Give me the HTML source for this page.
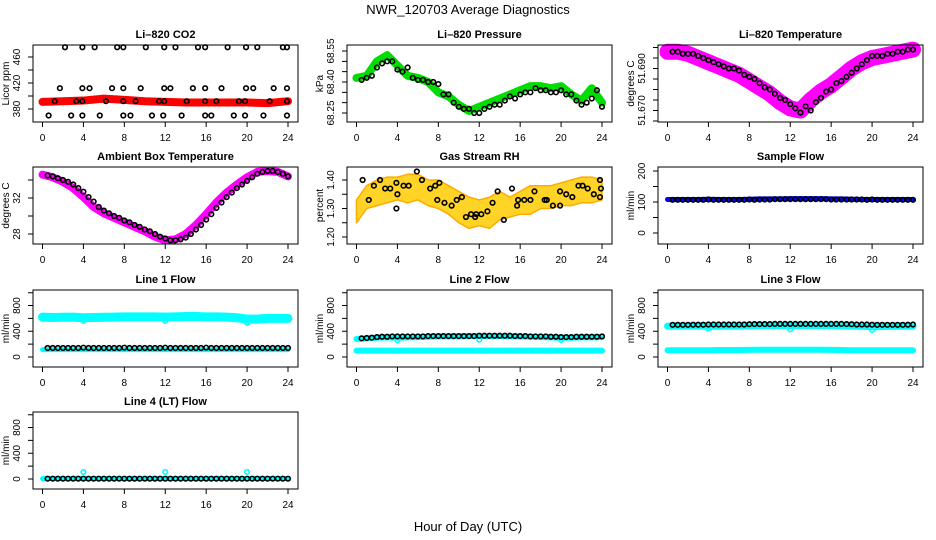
<!DOCTYPE html>
<html><head><meta charset="utf-8"><style>
body{margin:0;background:#fff}
svg{display:block;font-family:"Liberation Sans",sans-serif}
</style></head><body>
<svg id="c" width="936" height="540" viewBox="0 0 936 540">
<text x="468" y="14" text-anchor="middle" font-size="13">NWR_120703  Average Diagnostics</text>
<text x="468" y="531" text-anchor="middle" font-size="13">Hour of Day (UTC)</text>
</svg>
<script>
// ---------- data ----------
const hours25 = [0,1,2,3,4,5,6,7,8,9,10,11,12,13,14,15,16,17,18,19,20,21,22,23,24];
const hours48 = [0.5,1,1.5,2,2.5,3,3.5,4,4.5,5,5.5,6,6.5,7,7.5,8,8.5,9,9.5,10,10.5,11,11.5,12,12.5,13,13.5,14,14.5,15,15.5,16,16.5,17,17.5,18,18.5,19,19.5,20,20.5,21,21.5,22,22.5,23,23.5,24];
const xTicks = [0,4,8,12,16,20,24];

const co2Hours = [0,2,4,6,8,10,12,14,16,18,20,22,24];
const co2Band = [391,392,393,396,394,392,391,390,390,390,390,389,392];
const co2PtsX = [2.2,3.9,5.1,7.3,7.9,10.1,11.9,13,15.2,15.9,18.1,19.9,21,23.5,23.9, 1.7,3.9,4.6,6.8,7.9,9.6,11.9,12.5,14.7,15.9,17.5,19.9,20.6,22.6,23.9, 1.2,3.3,3.9,6.2,7.9,9.1,11.4,11.9,14.1,15.9,17,19.2,19.8,22.2,23.9, 0.6,2.8,3.9,5.6,7.9,8.6,10.7,11.8,13.6,15.9,16.5,18.7,19.8,21.6,23.9];
const co2PtsY = [475,475,475,475,475,475,475,475,475,475,475,475,475,475,475, 412,412,412,412,412,412,412,412,412,412,412,412,412,412,412, 392,392,392,392,392,392,392,392,392,392,392,392,392,392,392, 370,370,370,370,370,370,370,370,370,370,370,370,370,370,370];

const pressGreen = [68.42,68.43,68.50,68.53,68.48,68.43,68.42,68.40,68.35,68.33,68.29,68.26,68.28,68.30,68.32,68.34,68.36,68.38,68.38,68.37,68.38,68.34,68.31,68.37,68.30];
const pressBlack = [68.41,68.42,68.43,68.47,68.49,68.50,68.50,68.46,68.45,68.47,68.42,68.41,68.41,68.40,68.40,68.39,68.34,68.34,68.30,68.28,68.27,68.27,68.25,68.25,68.27,68.28,68.29,68.29,68.31,68.33,68.32,68.34,68.35,68.35,68.37,68.36,68.36,68.35,68.35,68.36,68.34,68.34,68.31,68.29,68.30,68.32,68.36,68.28];

const tempMag = [51.698,51.698,51.697,51.695,51.693,51.691,51.689,51.687,51.684,51.681,51.678,51.674,51.671,51.670,51.675,51.679,51.682,51.686,51.690,51.693,51.695,51.696,51.697,51.698,51.699];
const tempBlack = [51.698,51.698,51.697,51.697,51.697,51.696,51.695,51.694,51.693,51.692,51.691,51.690,51.690,51.689,51.687,51.686,51.685,51.683,51.681,51.680,51.678,51.676,51.675,51.673,51.671,51.669,51.672,51.670,51.674,51.676,51.679,51.680,51.683,51.684,51.686,51.688,51.690,51.692,51.694,51.696,51.696,51.696,51.697,51.697,51.698,51.698,51.699,51.699];

const ambMag = [34.6,34.3,33.8,33.1,32.1,31.0,30.3,29.8,29.3,28.8,28.3,27.7,27.3,27.4,28.0,29.0,30.2,31.5,32.6,33.5,34.3,34.9,35.0,34.9,34.4];
const ambBlack = [34.5,34.4,34.2,34.0,33.8,33.5,33.1,32.7,32.1,31.6,31.0,30.6,30.3,30.0,29.8,29.5,29.3,29.0,28.8,28.5,28.3,28.0,27.7,27.5,27.3,27.3,27.4,27.6,28.0,28.5,29.0,29.6,30.2,30.9,31.5,32.1,32.6,33.1,33.5,33.9,34.3,34.7,34.9,35.0,35.0,34.9,34.7,34.4];

const rhUpper = [1.33,1.38,1.40,1.41,1.41,1.42,1.42,1.40,1.40,1.38,1.36,1.34,1.33,1.34,1.36,1.34,1.36,1.38,1.38,1.38,1.39,1.40,1.41,1.41,1.40];
const rhLower = [1.25,1.30,1.31,1.32,1.33,1.32,1.33,1.31,1.30,1.28,1.25,1.23,1.24,1.23,1.26,1.27,1.28,1.28,1.30,1.30,1.31,1.31,1.32,1.32,1.33];
const rhPtsX = [0.6,1.2,1.7,2.3,2.8,3.3,3.9,4.0,3.9,4.6,5.1,5.9,6.4,7.2,7.7,8.1,7.9,8.6,9.3,9.8,10.3,10.7,11.2,11.6,11.7,12.2,12.8,13.3,13.8,14.4,15.2,15.8,15.7,16.4,17,17.4,18.4,18.6,19.2,19.9,19.9,20.5,21.1,21.7,22.1,22.6,23.2,23.8,23.9,23.8];
const rhPtsY = [1.40,1.33,1.38,1.40,1.37,1.37,1.39,1.35,1.30,1.38,1.38,1.43,1.40,1.37,1.38,1.39,1.33,1.32,1.31,1.33,1.34,1.27,1.28,1.27,1.28,1.28,1.29,1.32,1.36,1.26,1.37,1.33,1.31,1.33,1.33,1.36,1.33,1.33,1.31,1.31,1.36,1.35,1.34,1.38,1.38,1.37,1.35,1.40,1.37,1.34];

const sampleBlue = [108,108,108,108,109,108,108,108,109,110,110,110,111,111,111,111,110,110,109,108,108,108,108,108,108];
const sampleBlack = [107,107,107,107,107,107,107,108,107,107,107,107,107,107,107,108,107,108,108,108,109,109,109,109,109,109,109,109,109,109,109,108,108,108,108,108,108,108,107,108,107,107,107,107,107,107,107,107];

const l1CyanHi = [620,615,618,620,610,615,618,620,625,625,625,625,620,625,630,630,625,625,620,610,590,590,600,600,600];
const l1CyanLo = [115,115,115,115,115,115,115,115,115,115,115,115,115,115,115,115,115,115,115,115,115,115,115,115,115];
const l1Black = [140,140,140,140,140,140,140,145,140,140,140,140,140,140,140,145,140,140,140,140,140,140,140,145,140,140,140,140,140,140,140,145,140,140,140,140,140,140,140,140,140,140,140,140,140,140,140,140];
const l1OutX = [4,12,20];
const l1OutY = [560,560,530];

const l2CyanHi = [280,290,300,305,300,305,310,315,320,320,320,325,325,325,325,320,320,315,310,305,300,300,305,305,310];
const l2CyanLo = [100,100,100,100,100,100,100,100,100,100,100,100,100,100,100,100,100,100,100,100,100,100,100,100,100];
const l2Black = [290,295,300,310,315,315,320,320,320,320,320,320,320,325,325,325,325,325,325,325,325,325,325,330,330,330,330,330,330,330,325,325,325,320,320,320,320,315,315,310,310,310,315,315,315,315,315,320];
const l2OutX = [4,12,20];
const l2OutY = [260,270,265];

const l3CyanHi = [480,478,480,482,478,478,480,482,485,488,490,490,488,490,492,490,488,485,480,478,470,475,478,478,480];
const l3CyanLo = [105,105,105,105,105,108,108,108,110,112,112,112,112,112,112,112,110,108,105,105,105,105,105,105,105];
const l3Black = [500,500,500,500,502,502,502,505,505,505,505,505,505,505,505,510,512,512,512,512,515,515,515,515,515,515,515,515,515,515,515,515,515,515,512,510,505,505,505,502,500,500,500,500,500,500,502,505];
const l3OutX = [4,12,20];
const l3OutY = [440,430,420];

const l4Cyan = [5,5,5,5,5,5,5,5,5,5,5,5,5,5,5,5,5,5,5,5,5,5,5,5,5];
const l4Black = [5,5,5,5,5,5,5,5,5,5,5,5,5,5,5,5,5,5,5,5,5,5,5,5,5,5,5,5,5,5,5,5,5,5,5,5,5,5,5,5,5,5,5,5,5,5,5,5];
const l4OutX = [4,12,20];
const l4OutY = [110,110,110];

// ---------- drawing ----------
const svg = document.getElementById('c');
const NS = 'http://www.w3.org/2000/svg';
const colL = [33,347,658], rowT = [45,167,290,412], BW = 265, BH = 77;
function mk(tag, parent){ const e = document.createElementNS(NS, tag); parent.appendChild(e); return e; }

function panel(name, col, row, title, ytitle, yRef, yRefPx, k, yTicks, yLabels){
  const L = colL[col], T = rowT[row], R = L+BW, B = T+BH;
  const g = mk('g', svg);
  
  
  const xs = h => L + 9.5 + h*(BW-19.5)/24;
  const ys = v => yRefPx - (v - yRef)*k;
  const t = mk('text', g);
  
  
  t.setAttribute('x', (L+R)/2); t.setAttribute('y', T-7);
  t.setAttribute('text-anchor','middle'); t.setAttribute('font-size','11'); t.setAttribute('font-weight','bold');
  t.textContent = title;
  const marks = mk('g', g);
  
  
  const box = mk('rect', g);
  
  
  box.setAttribute('x',L); box.setAttribute('y',T); box.setAttribute('width',BW); box.setAttribute('height',BH);
  box.setAttribute('fill','none'); box.setAttribute('stroke','#000'); box.setAttribute('stroke-width','1');
  const xa = mk('g', g);
  
  
  let p = `M${xs(0)},${B}H${xs(24)}`;
  xTicks.forEach(h=>{ p += `M${xs(h)},${B}v5`;
    const tl = mk('text', xa);
    
    
    tl.setAttribute('x', xs(h)); tl.setAttribute('y', B+19); tl.setAttribute('text-anchor','middle'); tl.setAttribute('font-size','10');
    tl.textContent = h; });
  const xp = mk('path', xa); xp.setAttribute('d', p); xp.setAttribute('stroke','#000'); xp.setAttribute('fill','none');
  const ya = mk('g', g);
  
  
  let q = `M${L},${ys(yTicks[0])}V${ys(yTicks[yTicks.length-1])}`;
  yTicks.forEach(v=>{ q += `M${L},${ys(v)}h-5`; });
  const yp = mk('path', ya); yp.setAttribute('d', q); yp.setAttribute('stroke','#000'); yp.setAttribute('fill','none');
  yLabels.forEach(v=>{
    const tl = mk('text', ya);
    
    
    tl.setAttribute('transform', `translate(${L-13},${ys(v)}) rotate(-90)`);
    tl.setAttribute('text-anchor','middle'); tl.setAttribute('font-size','10');
    tl.textContent = v; });
  const yt = mk('text', ya);
  
  
  yt.setAttribute('transform', `translate(${L-24},${(T+B)/2}) rotate(-90)`);
  yt.setAttribute('text-anchor','middle'); yt.setAttribute('font-size','10');
  yt.textContent = ytitle;
  return {marks, xs, ys};
}
function band(P, hx, vals, color, w, name){
  const e = mk('polyline', P.marks);
  
  
  e.setAttribute('points', hx.map((h,i)=>P.xs(h)+','+P.ys(vals[i])).join(' '));
  e.setAttribute('fill','none'); e.setAttribute('stroke',color); e.setAttribute('stroke-width',w);
  e.setAttribute('stroke-linejoin','round'); e.setAttribute('stroke-linecap','round');
}
function area(P, hx, up, lo, color, name){
  const e = mk('polygon', P.marks);
  
  
  const pts = hx.map((h,i)=>P.xs(h)+','+P.ys(up[i])).concat(hx.slice().reverse().map((h,j)=>P.xs(h)+','+P.ys(lo[lo.length-1-j])));
  e.setAttribute('points', pts.join(' '));
  e.setAttribute('fill',color); e.setAttribute('stroke','#ffaa00'); e.setAttribute('stroke-width','1.5'); e.setAttribute('stroke-linejoin','round');
  e.setAttribute('fill-opacity','0.85');
}
function pts(P, hx, vals, color, name){
  hx.forEach((h,i)=>{
    const c = mk('circle', P.marks);
    
    
    c.setAttribute('cx', P.xs(h)); c.setAttribute('cy', P.ys(vals[i])); c.setAttribute('r', 2.3);
    c.setAttribute('fill','none'); c.setAttribute('stroke',color); c.setAttribute('stroke-width','1.6');
  });
}
const flowTicks = [0,200,400,600,800,1000], flowLabels = [0,400,800];

let P = panel('co2-panel',0,0,'Li\u2013820 CO2','Licor ppm',380,109,0.65,[380,400,420,440,460],[380,420,460]);
band(P, co2Hours, co2Band, '#ff0000', 8, 'co2-band');
pts(P, co2PtsX, co2PtsY, '#000', 'co2-point');

P = panel('pressure-panel',1,0,'Li\u2013820 Pressure','kPa',68.40,82,206.7,[68.25,68.30,68.35,68.40,68.45,68.50,68.55],['68.25','68.40','68.55']);
band(P, hours25, pressGreen, '#00dd00', 8, 'pressure-band');
pts(P, hours48, pressBlack, '#000', 'pressure-point');

P = panel('li820-temp-panel',2,0,'Li\u2013820 Temperature','degrees C',51.670,110.5,2100,[51.665,51.670,51.675,51.680,51.685,51.690,51.695,51.700],['51.670','51.690']);
band(P, hours25, tempMag, '#ff00ff', 16, 'temperature-band');
pts(P, hours48, tempBlack, '#000', 'temperature-point');

P = panel('ambient-temp-panel',0,1,'Ambient Box Temperature','degrees C',28,234,9,[28,30,32,34],[28,32]);
band(P, hours25, ambMag, '#ff00ff', 8, 'ambient-band');
pts(P, hours48, ambBlack, '#000', 'ambient-point');

P = panel('rh-panel',1,1,'Gas Stream RH','percent',1.30,208.5,285,[1.20,1.25,1.30,1.35,1.40],['1.20','1.30','1.40']);
area(P, hours25, rhUpper, rhLower, '#ffcc00', 'rh-cloud');
pts(P, rhPtsX, rhPtsY, '#000', 'rh-point');

P = panel('sample-flow-panel',2,1,'Sample Flow','ml/min',0,233,0.31,[0,50,100,150,200],[0,100,200]);
band(P, hours25, sampleBlue, '#0000ff', 5, 'sample-band');
pts(P, hours48, sampleBlack, '#000', 'sample-point');

P = panel('line1-flow-panel',0,2,'Line 1 Flow','ml/min',0,357,0.0643,flowTicks,flowLabels);
band(P, hours25, l1CyanHi, '#00ffff', 9, 'line1-cyan-high');
band(P, hours25, l1CyanLo, '#00ffff', 5, 'line1-cyan-low');
pts(P, l1OutX, l1OutY, '#00ffff', 'line1-outlier');
pts(P, hours48, l1Black, '#000', 'line1-point');

P = panel('line2-flow-panel',1,2,'Line 2 Flow','ml/min',0,357,0.0643,flowTicks,flowLabels);
band(P, hours25, l2CyanHi, '#00ffff', 6, 'line2-cyan-high');
band(P, hours25, l2CyanLo, '#00ffff', 6, 'line2-cyan-low');
pts(P, l2OutX, l2OutY, '#00ffff', 'line2-outlier');
pts(P, hours48, l2Black, '#000', 'line2-point');

P = panel('line3-flow-panel',2,2,'Line 3 Flow','ml/min',0,357,0.0643,flowTicks,flowLabels);
band(P, hours25, l3CyanHi, '#00ffff', 7, 'line3-cyan-high');
band(P, hours25, l3CyanLo, '#00ffff', 6, 'line3-cyan-low');
pts(P, l3OutX, l3OutY, '#00ffff', 'line3-outlier');
pts(P, hours48, l3Black, '#000', 'line3-point');

P = panel('line4-flow-panel',0,3,'Line 4 (LT) Flow','ml/min',0,479,0.0643,flowTicks,flowLabels);
band(P, hours25, l4Cyan, '#00ffff', 5, 'line4-cyan');
pts(P, l4OutX, l4OutY, '#00ffff', 'line4-outlier');
pts(P, hours48, l4Black, '#000', 'line4-point');
</script>
</body></html>
